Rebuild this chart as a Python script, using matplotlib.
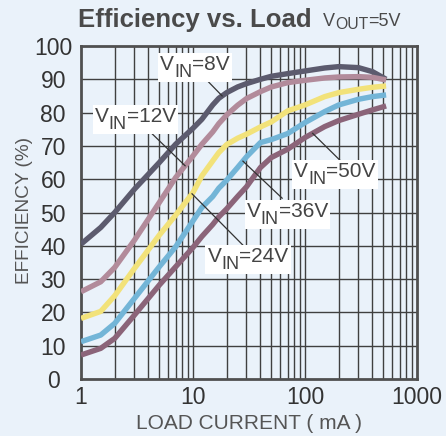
import numpy as np
import matplotlib
matplotlib.use("Agg")
import matplotlib.pyplot as plt
from matplotlib.patches import Rectangle

plt.rcParams['font.family'] = ['Liberation Sans', 'DejaVu Sans']

# load current (mA)
load_ma = [1, 1.5, 2, 3, 5, 7, 10, 12, 15, 17, 20, 25, 30, 40, 50, 70, 100, 150, 200, 300, 400, 530]

eff_8v = [40.5, 45.5, 50, 57, 65, 70.5, 75.3, 78, 82.3, 84.3, 86, 87.7, 88.7, 90, 90.9, 91.7, 92.5, 93.4, 93.8, 93.5, 92.3, 90]
eff_12v = [26.2, 29.2, 33.5, 41.7, 53, 60.5, 67, 70.5, 74.2, 76.7, 79.3, 82.2, 84.2, 86.3, 87.7, 89, 89.7, 90.4, 90.7, 90.8, 90.6, 89.8]
eff_24v = [18.2, 20.3, 25, 33.2, 43.2, 49.2, 56, 61, 65.5, 68, 70.4, 72.3, 73.5, 75.7, 77.2, 80.5, 82.3, 84.8, 86, 87, 87.6, 88]
eff_36v = [11.2, 13.2, 16.7, 24.2, 33.7, 39.7, 47.5, 51.5, 54.8, 57.3, 59.7, 63.5, 66.7, 71, 71.9, 73.7, 77, 80.3, 82.3, 84, 84.8, 85.3]
eff_50v = [7.2, 9.2, 12.2, 19.2, 28.2, 33.7, 39.5, 42.8, 46.4, 48.7, 51.1, 54.8, 57.7, 63.5, 66.5, 69, 72.5, 75.8, 77.6, 79.5, 80.8, 82]

series = [eff_8v, eff_12v, eff_24v, eff_36v, eff_50v]
colors = ['#5c5b6e', '#b28b9b', '#f2e27a', '#73b5d7', '#8b6479']
vin_labels = ['8V', '12V', '24V', '36V', '50V']

# label placement (data coords): text centre, pointer end, pointer start on curve
label_pos = [(10.4, 94.2), (3.07, 78.7), (31, 36.6), (69.6, 50.1), (185, 62.1)]
pointer_end = [(11.5, 91.9), (3.73, 75.7), (27.9, 40.2), (62.5, 54.3), (205, 65.7)]
pointer_on = [18.2, 8.5, 9.8, 27.9, 117]

bg = '#eaf2fa'
fig = plt.figure(figsize=(4.46, 4.36), dpi=100, facecolor=bg)
ax = fig.add_axes([81/446, 1-379/436, 336/446, 333/436])
ax.set_facecolor(bg)
ax.set_xscale('log')
ax.set_xlim(1, 1000)
ax.set_ylim(0, 100)
renderer = fig.canvas.get_renderer()
W, H = fig.bbox.width, fig.bbox.height


def sub_text(cx, cy, main, sub, rest, size, color, box=False, center=True, drop=0.32):
    """draw main + subscript + rest at pixel position (cx = centre or left, cy = baseline)"""
    parts = [(main, size, 0), (sub, size * 0.87, -drop * size * 100 / 72), (rest, size, 0)]
    widths = []
    for s, fs, _ in parts:
        t = fig.text(0, 0, s, fontsize=fs)
        widths.append(t.get_window_extent(renderer).width)
        t.remove()
    x = cx - sum(widths) / 2 if center else cx
    arts = []
    for (s, fs, dy), w in zip(parts, widths):
        arts.append(fig.text(x / W, (cy + dy) / H, s, fontsize=fs, color=color,
                             ha='left', va='baseline', zorder=6))
        x += w
    if box:
        bbs = [a.get_window_extent(renderer) for a in arts]
        x0 = min(b.x0 for b in bbs) - 2
        x1 = max(b.x1 for b in bbs) + 2
        y0 = min(b.y0 for b in bbs) - 1
        y1 = max(b.y1 for b in bbs) + 2
        fig.patches.append(Rectangle((x0 / W, y0 / H), (x1 - x0) / W, (y1 - y0) / H,
                                     transform=fig.transFigure, fc='white', ec='none', zorder=5))


# grid
for y in range(10, 100, 10):
    ax.axhline(y, color='#404040', lw=1.0, zorder=1)
for dec in [1, 10, 100]:
    for m in range(1, 10):
        xv = dec * m
        if xv > 1:
            ax.axvline(xv, color='#404040', lw=1.0, zorder=1)

for vals, c in zip(series, colors):
    ax.plot(load_ma, vals, color=c, lw=3.9, solid_capstyle='butt', solid_joinstyle='round', zorder=3)

lx = np.log10(load_ma)
for i, lab in enumerate(vin_labels):
    x0 = pointer_on[i]
    y0 = np.interp(np.log10(x0), lx, series[i])
    ax.plot([x0, pointer_end[i][0]], [y0, pointer_end[i][1]], color='#333333', lw=0.9, zorder=4)
    px, py = ax.transData.transform(label_pos[i])
    sub_text(px, py - 5, 'V', 'IN', '=' + lab, 15, '#444444', box=True)

for s in ax.spines.values():
    s.set_color('#505050')
    s.set_linewidth(2)

ax.set_yticks(range(0, 101, 10))
ax.set_xticks([1, 10, 100, 1000])
ax.set_xticklabels(['1', '10', '100', '1000'])
ax.xaxis.set_minor_locator(matplotlib.ticker.NullLocator())
ax.tick_params(axis='both', length=0, labelsize=16.5, colors='#333333')
ax.tick_params(axis='y', pad=20)
ax.tick_params(axis='x', pad=5)
for t in ax.get_yticklabels():
    t.set_horizontalalignment('center')

fig.text(249/446, 1-423/436, 'LOAD CURRENT ( mA )', fontsize=15, color='#555555',
         ha='center', va='center')
fig.text(25/446, 1-210/436, 'EFFICIENCY (%)', fontsize=13.7, color='#555555',
         ha='center', va='center', rotation=90)

fig.text(78/446, 1-27/436, 'Efficiency vs. Load', fontsize=18.5, fontweight='bold',
         color='#4a4a4a', ha='left', va='baseline')
sub_text(323, H - 26, 'V', 'OUT', '=5V', 13, '#4a4a4a', center=False, drop=0.15)

fig.savefig('out.png', dpi=100, facecolor=bg)
